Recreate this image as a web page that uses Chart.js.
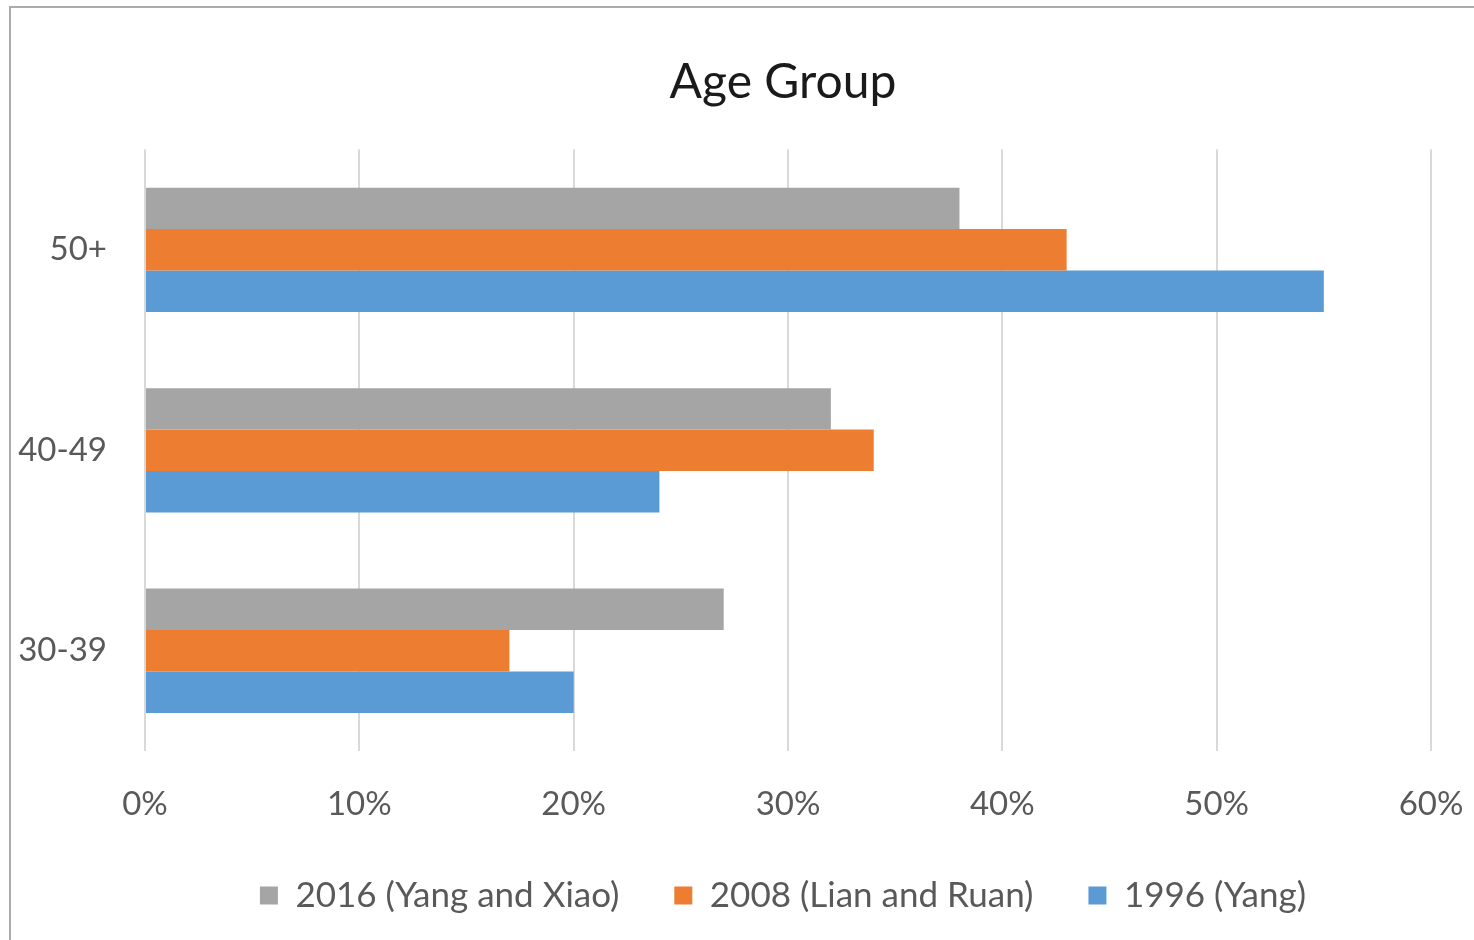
<!DOCTYPE html>
<html>
<head>
<meta charset="utf-8">
<script src="https://cdn.jsdelivr.net/npm/chart.js@4.4.1/dist/chart.umd.min.js"></script>
<style>
  html, body { margin: 0; padding: 0; background: #fff; overflow: hidden; width: 1474px; height: 940px; }
  #frame { position: absolute; left: 9px; top: 6px; width: 1600px; height: 1000px; border: 2px solid #ababab; box-sizing: border-box; }
  #chart { position: absolute; left: 0; top: 0; }
</style>
</head>
<body>
<div id="frame"></div>
<canvas id="chart" width="1556" height="980"></canvas>
<script>
const ageGroups = ['50+', '40-49', '30-39'];
const series2016 = [38, 32, 27];
const series2008 = [43, 34, 17];
const series1996 = [55, 24, 20];
const seriesNames = ['2016 (Yang and Xiao)', '2008 (Lian and Ruan)', '1996 (Yang)'];
const xTickLabels = ['0%', '10%', '20%', '30%', '40%', '50%', '60%'];

const font = 'Lato, "Open Sans", sans-serif';

const ctx = document.getElementById('chart').getContext('2d');
new Chart(ctx, {
    type: 'bar',
    data: {
        labels: ageGroups,
        datasets: [
            { label: seriesNames[0], data: series2016, backgroundColor: '#a5a5a5' },
            { label: seriesNames[1], data: series2008, backgroundColor: '#ed7d31' },
            { label: seriesNames[2], data: series1996, backgroundColor: '#5b9bd5' }
        ]
    },
    options: {
        indexAxis: 'y',
        responsive: false,
        devicePixelRatio: 1,
        animation: false,
        categoryPercentage: 0.62,
        barPercentage: 1.0,
        layout: { padding: { left: 10, top: 10, right: 0, bottom: 57 } },
        plugins: {
            tooltip: { enabled: false },
            title: {
                display: true,
                text: 'Age Group',
                color: '#1a1a1a',
                font: { family: font, size: 48, weight: 'normal' },
                padding: { top: 44, bottom: 38 }
            },
            legend: {
                position: 'bottom',
                labels: {
                    color: '#595959',
                    font: { family: font, size: 35 },
                    boxWidth: 18,
                    boxHeight: 18,
                    padding: 55
                }
            }
        },
        scales: {
            x: {
                min: 0,
                max: 60,
                ticks: {
                    stepSize: 10,
                    color: '#595959',
                    font: { family: font, size: 33 },
                    padding: 34,
                    callback: (value, i) => xTickLabels[i]
                },
                grid: { color: '#d9d9d9', lineWidth: 2, drawTicks: false },
                border: { display: false },
                afterFit: s => { s.height = 72; }
            },
            y: {
                ticks: {
                    color: '#595959',
                    font: { family: font, size: 33 },
                    padding: 38
                },
                grid: { display: false, drawTicks: false },
                border: { display: false },
                afterFit: s => { s.width = 135; }
            },
            yRight: {
                type: 'category',
                axis: 'y',
                position: 'right',
                ticks: { display: false },
                grid: { display: false },
                border: { display: false },
                afterFit: s => { s.width = 125; }
            }
        }
    }
});
</script>
</body>
</html>
